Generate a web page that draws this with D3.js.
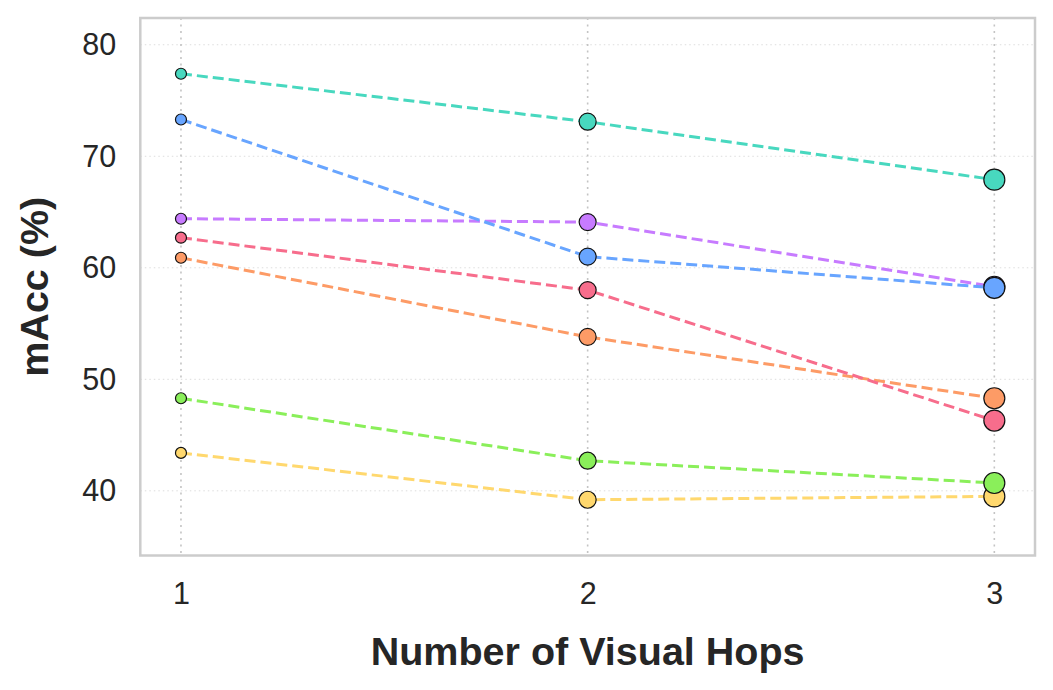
<!DOCTYPE html>
<html>
<head>
<meta charset="utf-8">
<script src="https://cdn.jsdelivr.net/npm/d3@7"></script>
<style>
  body { margin: 0; background: #fff; }
  text { font-family: "Liberation Sans", Arial, sans-serif; fill: #262626; }
</style>
</head>
<body>
<div id="chart"></div>
<script>
// data
const hops = [1, 2, 3];
const yTicks = [40, 50, 60, 70, 80];
const seriesNames = ["yellow", "green", "orange", "pink", "purple", "blue", "teal"];
const seriesColors = ["#ffd86e", "#8aef5a", "#fd9b66", "#f76d8c", "#c77bff", "#68a5ff", "#48d8bf"];
const yellowVals = [43.4, 39.2, 39.5];
const greenVals = [48.3, 42.7, 40.7];
const orangeVals = [60.9, 53.8, 48.3];
const pinkVals = [62.7, 58.0, 46.3];
const purpleVals = [64.4, 64.1, 58.3];
const blueVals = [73.3, 61.0, 58.2];
const tealVals = [77.4, 73.1, 67.9];
const markerR = [5.5, 8.5, 10.5];

const allVals = [yellowVals, greenVals, orangeVals, pinkVals, purpleVals, blueVals, tealVals];

const W = 1053, H = 690;
const plotLeft = 140.3, plotRight = 1035, plotTop = 18, plotBottom = 555.5;

const svg = d3.select("#chart").append("svg")
    .attr("width", W)
    .attr("height", H);

const x = d3.scaleLinear().domain([0.9, 3.1]).range([plotLeft, plotRight]);
const yMin = d3.min(allVals.flat()) - 5, yMax = d3.max(allVals.flat()) + 5;
const y = d3.scaleLinear().domain([yMin, yMax]).range([plotBottom, plotTop]);

// horizontal grid
svg.append("g")
    .selectAll("line").data(yTicks).enter().append("line")
    .attr("x1", plotLeft).attr("x2", plotRight)
    .attr("y1", d => y(d)).attr("y2", d => y(d))
    .style("stroke", "#dddddd").style("stroke-width", 1)
    .style("stroke-dasharray", "1.5,3");

// vertical grid
svg.append("g")
    .selectAll("line").data(hops).enter().append("line")
    .attr("x1", d => x(d)).attr("x2", d => x(d))
    .attr("y1", plotTop).attr("y2", plotBottom)
    .style("stroke", "#c4c4c4").style("stroke-width", 1.6)
    .style("stroke-dasharray", "2,4.5");

// axes (ticks hidden, labels only)
const xAxis = svg.append("g")
    .attr("transform", `translate(0,${plotBottom})`)
    .call(d3.axisBottom(x).tickValues(hops).tickSize(0).tickPadding(27).tickFormat(d3.format("d")));
xAxis.select(".domain").remove();
xAxis.selectAll("text").style("font-size", "30.5px").style("fill", "#262626");

const yAxis = svg.append("g")
    .attr("transform", `translate(${plotLeft},0)`)
    .call(d3.axisLeft(y).tickValues(yTicks).tickSize(0).tickPadding(24));
yAxis.select(".domain").remove();
yAxis.selectAll("text").style("font-size", "30.5px").style("fill", "#262626");

// series
const line = d3.line().x((d, i) => x(hops[i])).y(d => y(d));

allVals.forEach(function(vals, k) {
    const g = svg.append("g").attr("class", "series-" + seriesNames[k]);
    g.append("path")
        .datum(vals)
        .attr("d", line)
        .style("fill", "none")
        .style("stroke", seriesColors[k])
        .style("stroke-width", 3)
        .style("stroke-dasharray", "11,5");
    g.selectAll("circle").data(vals).enter().append("circle")
        .attr("cx", (d, i) => x(hops[i]))
        .attr("cy", d => y(d))
        .attr("r", (d, i) => markerR[i])
        .style("fill", seriesColors[k])
        .style("stroke", "#111")
        .style("stroke-width", 1.2);
});

// frame
svg.append("rect")
    .attr("x", plotLeft).attr("y", plotTop)
    .attr("width", plotRight - plotLeft).attr("height", plotBottom - plotTop)
    .style("fill", "none").style("stroke", "#cccccc").style("stroke-width", 2.5);

// axis titles
svg.append("text")
    .attr("x", (plotLeft + plotRight) / 2)
    .attr("y", 665)
    .attr("text-anchor", "middle")
    .style("font-size", "39.5px").style("font-weight", "bold")
    .text("Number of Visual Hops");

svg.append("text")
    .attr("transform", `translate(48,${(plotTop + plotBottom) / 2}) rotate(-90)`)
    .attr("text-anchor", "middle")
    .style("font-size", "39.5px").style("font-weight", "bold")
    .text("mAcc (%)");
</script>
</body>
</html>
